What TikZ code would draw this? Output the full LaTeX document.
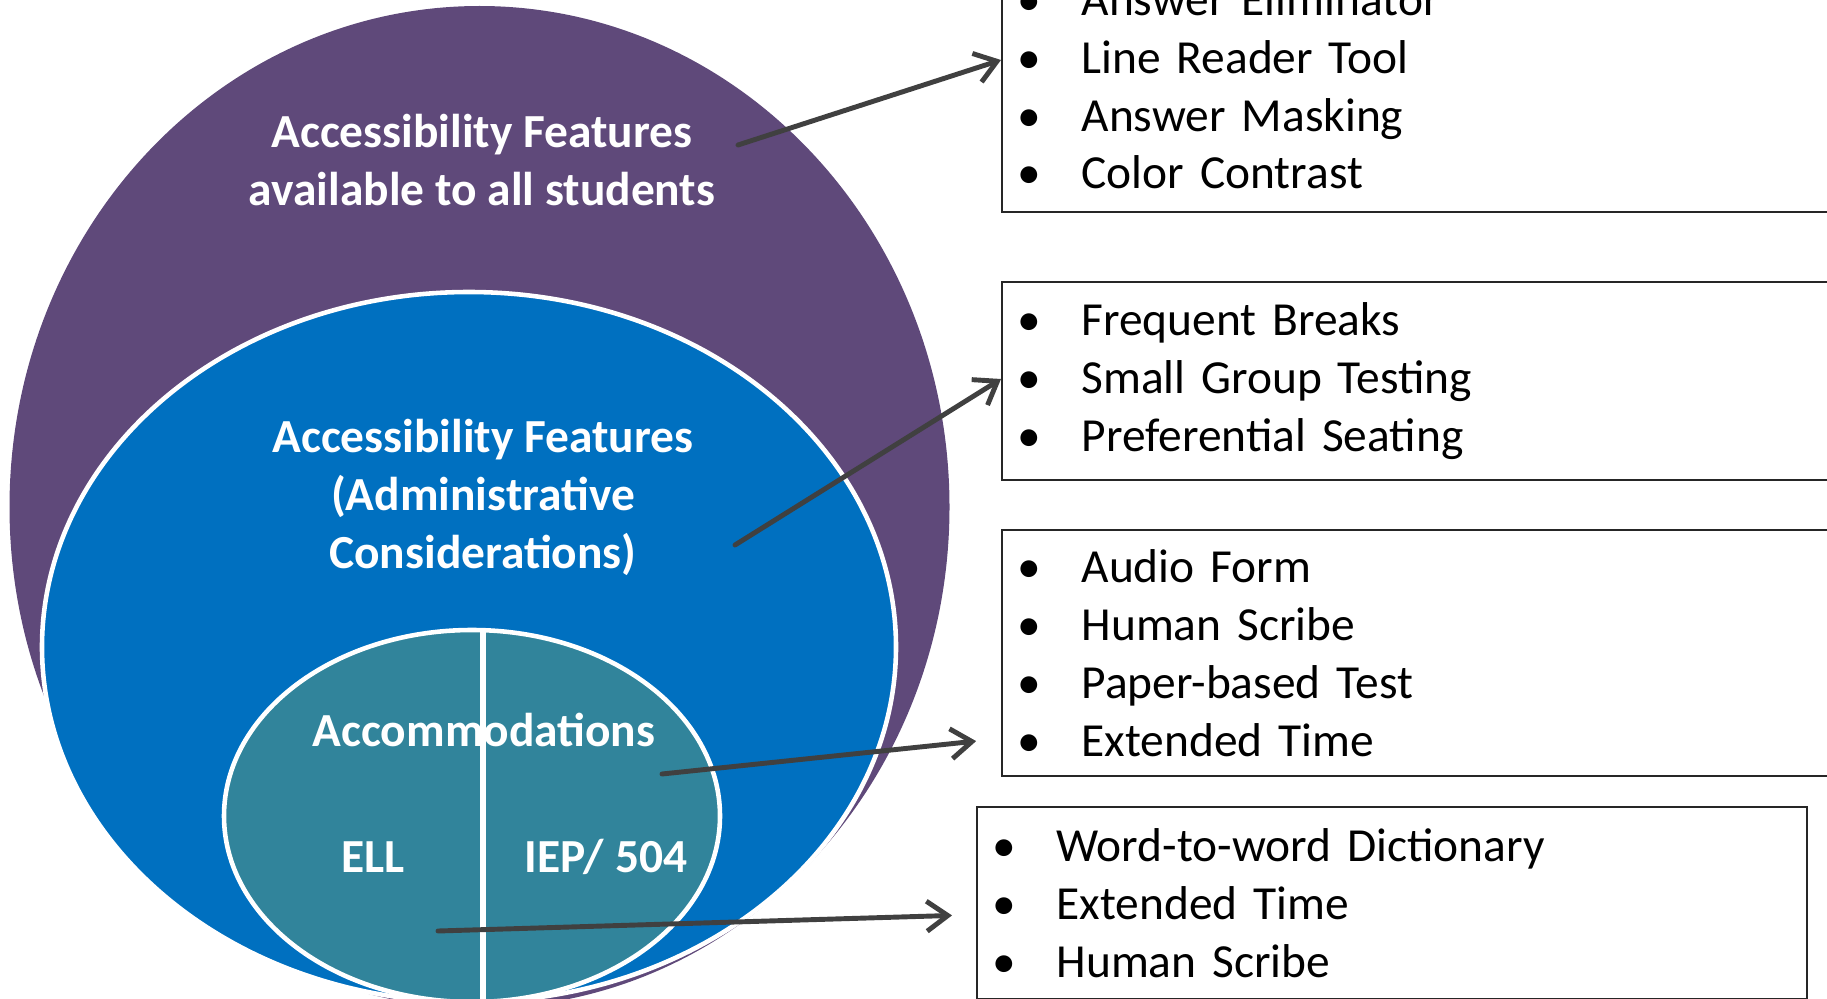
\documentclass[tikz,border=0pt]{standalone}
\usepackage{fontspec}
\setmainfont{Carlito}
\usetikzlibrary{arrows.meta}

\definecolor{purplearea}{RGB}{95,73,122}
\definecolor{bluearea}{RGB}{0,112,192}
\definecolor{tealarea}{RGB}{49,132,155}
\definecolor{arrowgray}{RGB}{64,64,64}

\newcommand{\itm}[1]{\makebox[0.645cm][l]{\textbullet}#1}

\tikzset{
  area label/.style={text=white, font=\fontsize{13.5}{16.45}\selectfont\bfseries, align=center, anchor=base},
  list box/.style={draw=black!85, line width=0.6pt, fill=white, align=left, inner xsep=0.15cm, inner ysep=0cm, font=\fontsize{13.5}{16.45}\selectfont, text width=8.7cm},
  pointer/.style={-{Straight Barb[length=2.1mm,width=3mm]}, arrowgray, line width=1.4pt, line cap=round, line join=round}
}

\begin{document}
\begin{tikzpicture}
\useasboundingbox (0,0) rectangle (18.27,-9.99);
\clip (0,0) rectangle (18.27,-9.99);

% nested ellipses
\fill[purplearea] (4.795,-5.07) ellipse [x radius=4.70, y radius=5.01];
\filldraw[fill=bluearea, draw=white, line width=1.3pt] (4.69,-6.47) ellipse [x radius=4.27, y radius=3.55];
\filldraw[fill=tealarea, draw=white, line width=1.3pt] (4.72,-8.16) ellipse [x radius=2.48, y radius=1.86];
\draw[white, line width=1.6pt] (4.83,-6.31) -- (4.83,-10.1);

% labels inside the ellipses (base = last line)
\node[area label] (all)   at (4.82,-2.057) {Accessibility Features\\available to all students};
\node[area label] (admin) at (4.83,-5.68) {Accessibility Features\\(Administrative\\Considerations)};
\node[area label] (accom) at (4.84,-7.46) {Accommodations};
\node[area label] (ell)   at (3.73,-8.72) {ELL};
\node[area label] (iep)   at (6.06,-8.72) {IEP/ 504};

% feature lists
\node[list box, anchor=south west, minimum height=2.52cm] (allbox) at (10.01,-2.13)
  {\itm{Answer Eliminator}\\\itm{Line Reader Tool}\\\itm{Answer Masking}\\\itm{Color Contrast}};
\node[list box, anchor=north west, minimum height=1.98cm] (adminbox) at (10.01,-2.81)
  {\itm{Frequent Breaks}\\\itm{Small Group Testing}\\\itm{Preferential Seating}};
\node[list box, anchor=north west, minimum height=2.46cm] (iepbox) at (10.01,-5.29)
  {\itm{Audio Form}\\\itm{Human Scribe}\\\itm{Paper-based Test}\\\itm{Extended Time}};
\node[list box, anchor=north west, minimum height=1.92cm, text width=8.0cm] (ellbox) at (9.76,-8.06)
  {\itm{Word-to-word Dictionary}\\\itm{Extended Time}\\\itm{Human Scribe}};

% arrows from the groups to their lists
\coordinate (allfrom)   at (7.38,-1.45);
\coordinate (adminfrom) at (7.35,-5.45);
\coordinate (iepfrom)   at (6.62,-7.74);
\coordinate (ellfrom)   at (4.38,-9.31);

\draw[pointer] (allfrom) -- (allbox.west |- 0,-0.60);
\draw[pointer] (adminfrom) -- (adminbox.west |- 0,-3.79);
\draw[pointer, shorten >=0.25cm] (iepfrom) -- (iepbox.west |- 0,-7.385);
\draw[pointer, shorten >=0.24cm] (ellfrom) -- (ellbox.west |- 0,-9.147);
\end{tikzpicture}
\end{document}
